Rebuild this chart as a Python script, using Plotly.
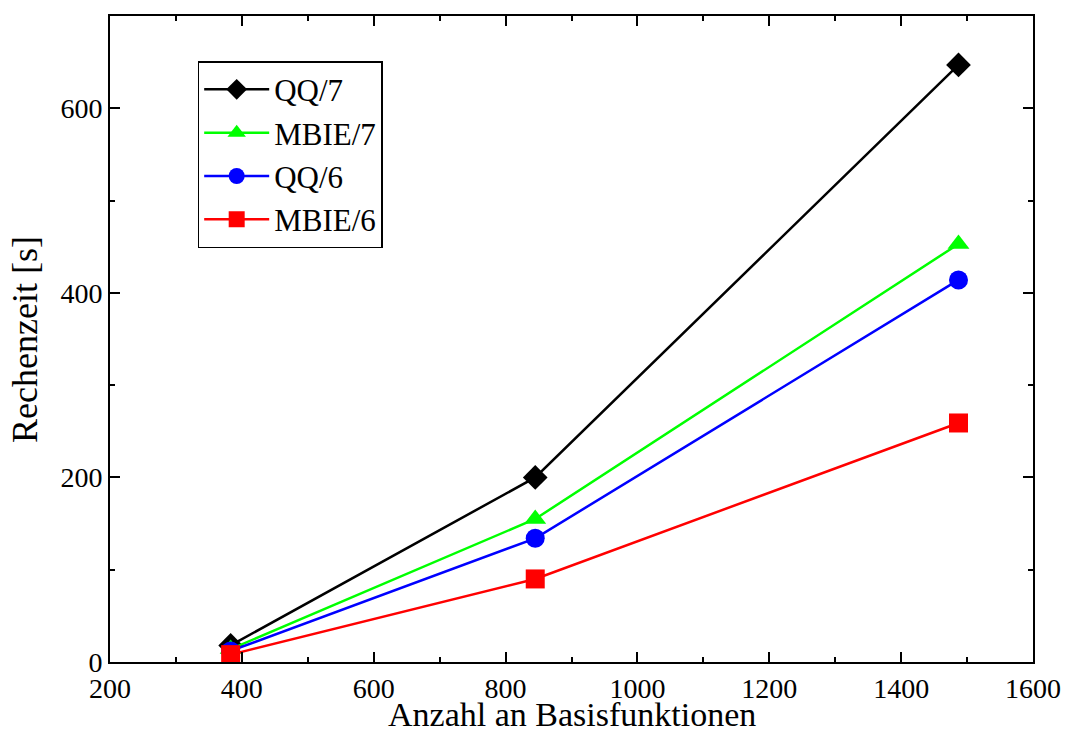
import plotly.graph_objects as go

x_vals = [383, 845, 1487]
qq7 = [18, 200, 647]
mbie7 = [14, 155, 453]
qq6 = [12, 134, 414]
mbie6 = [8, 90, 259]

series = [
    ("QQ/7", qq7, "black", "diamond"),
    ("MBIE/7", mbie7, "#00ff00", "triangle-up"),
    ("QQ/6", qq6, "#0000ff", "circle"),
    ("MBIE/6", mbie6, "#ff0000", "square"),
]

fig = go.Figure()
for name, ys, col, sym in series:
    fig.add_trace(go.Scatter(
        x=x_vals, y=ys, name=name, mode="lines+markers",
        line=dict(color=col, width=2.5),
        marker=dict(symbol=sym, color=col, size=19, line=dict(width=0)),
    ))

font = "Liberation Serif, Times New Roman, serif"
axis_common = dict(
    showgrid=False, zeroline=False, showline=True, linecolor="black", linewidth=2,
    mirror="allticks", ticks="inside", ticklen=10, tickwidth=1.5, tickcolor="black",
    tickfont=dict(family=font, size=28, color="black"),
    minor=dict(ticks="inside", ticklen=5, tickwidth=1.5, tickcolor="black"),
    automargin=False,
)
fig.update_xaxes(range=[200, 1600], dtick=200, minor_dtick=100, **axis_common)
fig.update_yaxes(range=[0, 700], tickvals=[0, 200, 400, 600], minor_dtick=100, **axis_common)

fig.add_annotation(text="Anzahl an Basisfunktionen", xref="paper", yref="paper",
                   x=0.5, y=-0.111, xanchor="center", yanchor="bottom", showarrow=False,
                   borderpad=0,
                   font=dict(family=font, size=34, color="black"))
fig.add_annotation(text="Rechenzeit [s]", xref="paper", yref="paper",
                   x=-0.116, y=0.5, xanchor="left", yanchor="middle", showarrow=False,
                   textangle=-90, font=dict(family=font, size=36, color="black"))

fig.update_layout(
    width=1067, height=731,
    margin=dict(l=110, r=34, t=16, b=69),
    plot_bgcolor="white", paper_bgcolor="white",
    font=dict(family=font, color="black"),
    legend=dict(x=0.095, y=0.93, xanchor="left", yanchor="top",
                bgcolor="white", bordercolor="black", borderwidth=1.5,
                font=dict(family=font, size=31, color="black"),
                itemwidth=65, tracegroupgap=0),
)

fig.write_html("out.html")
